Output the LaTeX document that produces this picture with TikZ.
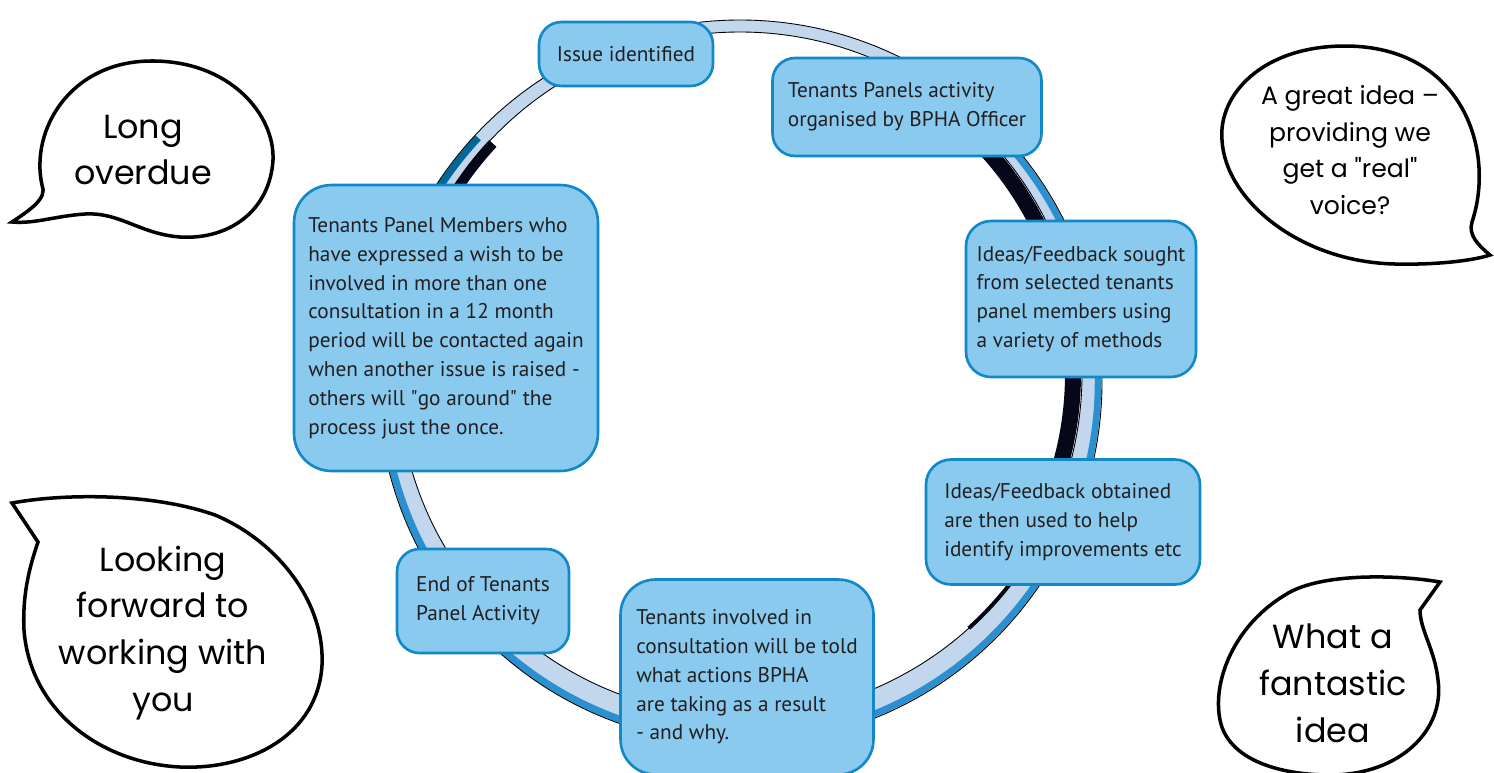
\documentclass[tikz,border=0pt]{standalone}
\usepackage{fontspec}
\setmainfont{PT Sans}
\newfontfamily\chatfont{Poppins}
\usetikzlibrary{positioning}

\definecolor{panelfill}{HTML}{89CAEE}
\definecolor{panelline}{HTML}{1188C8}
\definecolor{paneltext}{HTML}{231F20}
\definecolor{ringlight}{HTML}{C2D7ED}
\definecolor{ringblue}{HTML}{2A90CF}
\definecolor{ringdeep}{HTML}{00679A}
\definecolor{ringdark}{HTML}{07071A}

\begin{document}
\begin{tikzpicture}[x=0.02cm, y=-0.02cm,
    stage/.style={draw=panelline, line width=1.5pt, fill=panelfill, rounded corners=0.45cm, text=paneltext, align=left, font=\fontsize{12.1}{16.4}\selectfont},
    bubble/.style={draw=black, line width=2pt, fill=white},
    saying/.style={align=center, font=\chatfont\fontsize{19}{26.7}\selectfont}]
    \useasboundingbox (0,0) rectangle (1494,772);

    % the ring behind the stages
    \fill[ringlight, even odd rule] (740,382) circle[radius=362] (740,374) circle[radius=342];
    \begin{scope}[shift={(740,382)}, y=0.02cm]
        \draw[ringblue, line width=0.13cm] (45:358) arc[start angle=45, end angle=-72, radius=358];
        \draw[ringblue, line width=0.14cm] (185:358) arc[start angle=185, end angle=262, radius=358];
        \draw[ringdeep, line width=0.14cm] (137:358) arc[start angle=137, end angle=152, radius=358];
    \end{scope}
    \begin{scope}[shift={(740,374)}, y=0.02cm]
        \draw[ringdark, line width=0.32cm] (44:333) arc[start angle=44, end angle=-38, radius=333];
        \draw[ringdark, line width=0.08cm] (-34:342) arc[start angle=-34, end angle=-48, radius=342];
        \draw[ringdark, line width=0.2cm] (137:338) arc[start angle=137, end angle=152, radius=338];
    \end{scope}
    \draw[black, line width=0.5pt] (740,382) circle[radius=362];
    \draw[black, line width=0.5pt] (740,374) circle[radius=342];

    % stages
    \node (issue) at (626,54) [stage, minimum width=3.48cm, minimum height=1.28cm] {Issue identified};
    \node (panels) at (907,107) [stage, minimum width=5.38cm, minimum height=1.96cm] {Tenants Panels activity\\organised by BPHA Officer};
    \node (sought) at (1081,299) [stage, minimum width=4.6cm, minimum height=3.12cm, rounded corners=0.5cm] {Ideas/Feedback sought\\from selected tenants\\panel members using\\a variety of methods};
    \node (obtained) at (1063,522) [stage, minimum width=5.48cm, minimum height=2.5cm, rounded corners=0.5cm] {Ideas/Feedback obtained\\are then used to help\\identify improvements etc};
    \node (told) at (747,677) [stage, minimum width=5.06cm, minimum height=3.9cm, rounded corners=0.7cm] {Tenants involved in\\consultation will be told\\what actions BPHA\\are taking as a result\\- and why.};
    \node (ended) at (483,601) [stage, minimum width=3.44cm, minimum height=2.08cm] {End of Tenants\\Panel Activity};
    \node (members) at (446,328) [stage, minimum width=6.08cm, minimum height=5.72cm, rounded corners=0.75cm] {Tenants Panel Members who\\have expressed a wish to be\\involved in more than one\\consultation in a 12 month\\period will be contacted again\\when another issue is raised -\\others will \textquotedbl go around\textquotedbl\ the\\process just the once.};

    % speech bubbles
    \draw[bubble] (12,222) .. controls (30,210) and (48,198) .. (42,185) .. controls (30,130) and (70,62) .. (150,61) .. controls (230,60) and (275,115) .. (273,160) .. controls (270,210) and (230,240) .. (180,237) .. controls (140,234) and (120,212) .. (85,214) .. controls (55,216) and (35,224) .. (12,222) -- cycle;
    \node (overdue) at (143,150) [saying] {Long\\overdue};

    \draw[bubble] (1490,255) .. controls (1478,245) and (1468,235) .. (1472,222) .. controls (1496,150) and (1462,46) .. (1345,46) .. controls (1262,46) and (1218,95) .. (1222,140) .. controls (1225,200) and (1300,262) .. (1395,264) .. controls (1440,265) and (1475,260) .. (1490,255) -- cycle;
    \node (voice) at (1350,150) [saying, font=\chatfont\fontsize{14.3}{21}\selectfont] {A great idea –\\providing we\\get a "real"\\voice?};

    \draw[bubble] (12,503) .. controls (60,494) and (150,492) .. (215,515) .. controls (275,540) and (325,600) .. (322,665) .. controls (318,735) and (250,770) .. (180,767) .. controls (100,763) and (30,710) .. (24,630) .. controls (22,590) and (32,560) .. (38,542) -- cycle;
    \node (forward) at (163,633) [saying] {Looking\\forward to\\working with\\you};

    \draw[bubble] (1440,582) .. controls (1400,575) and (1320,572) .. (1285,595) .. controls (1235,625) and (1212,680) .. (1220,720) .. controls (1228,760) and (1280,775) .. (1330,775) .. controls (1400,775) and (1445,730) .. (1438,680) .. controls (1435,650) and (1420,630) .. (1420,610) -- cycle;
    \node (fantastic) at (1333,683) [saying] {What a\\fantastic\\idea};
\end{tikzpicture}
\end{document}
